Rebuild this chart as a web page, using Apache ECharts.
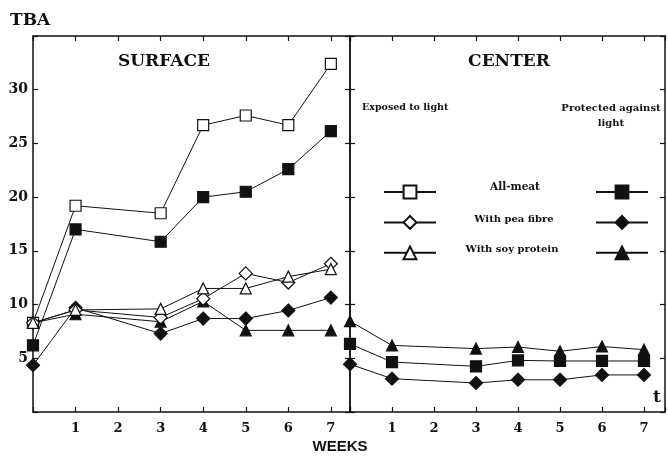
<!DOCTYPE html>
<html>
<head>
<meta charset="utf-8">
<script src="https://cdn.jsdelivr.net/npm/echarts@6/dist/echarts.min.js"></script>
<style>html,body{margin:0;padding:0;background:#fff}#c{width:668px;height:456px}</style>
</head>
<body>
<div id="c"></div>
<script>
// ---- data ----
var weeks = [0, 1, 3, 4, 5, 6, 7];
var tickLabels = [1, 2, 3, 4, 5, 6, 7];
var yTickLabels = [5, 10, 15, 20, 25, 30];
var surfaceAllMeatExposed   = [8.3, 19.2, 18.5, 26.7, 27.6, 26.7, 32.4];
var surfaceAllMeatProtected = [6.2, 17.0, 15.85, 20.0, 20.5, 22.6, 26.15];
var surfacePeaExposed       = [8.3, 9.5, 8.8, 10.55, 12.9, 12.05, 13.8];
var surfacePeaProtected     = [4.35, 9.7, 7.3, 8.7, 8.7, 9.45, 10.65];
var surfaceSoyExposed       = [8.3, 9.5, 9.6, 11.5, 11.5, 12.6, 13.3];
var surfaceSoyProtected     = [8.3, 9.1, 8.4, 10.3, 7.6, 7.6, 7.6];
var centerAllMeatProtected  = [6.35, 4.65, 4.25, 4.8, 4.75, 4.75, 4.75];
var centerPeaProtected      = [4.45, 3.1, 2.7, 3.0, 3.0, 3.45, 3.45];
var centerSoyProtected      = [8.45, 6.2, 5.9, 6.05, 5.65, 6.1, 5.8];
var groupLabels = ['All-meat', 'With pea fibre', 'With soy protein'];

function pairs(vals) { return weeks.map(function (w, i) { return [w, vals[i]]; }); }

var INK = '#111';
var SERIF = '"DejaVu Serif", serif';

function xAx(grid, pos, max, labels) {
  return {
    type: 'value', gridIndex: grid, position: pos, min: 0, max: max, interval: 1,
    axisLine: { show: true, onZero: false, lineStyle: { color: INK, width: 1.5 } },
    axisTick: { show: true, inside: true, length: 5, lineStyle: { color: INK, width: 1.2 } },
    splitLine: { show: false },
    axisLabel: labels ? {
      show: true, margin: 10, color: INK, fontFamily: SERIF, fontWeight: 'bold', fontSize: 13,
      formatter: function (v) { return tickLabels.indexOf(v) >= 0 ? String(v) : ''; }
    } : { show: false }
  };
}
function yAx(grid, pos, labels) {
  return {
    type: 'value', gridIndex: grid, position: pos, min: 0, max: 35, interval: 5,
    axisLine: { show: true, onZero: false, lineStyle: { color: INK, width: 1.5 } },
    axisTick: { show: true, inside: true, length: 5, lineStyle: { color: INK, width: 1.2 } },
    splitLine: { show: false },
    axisLabel: labels ? {
      show: true, margin: 5, color: INK, fontFamily: SERIF, fontWeight: 'bold', fontSize: 14,
      formatter: function (v) { return yTickLabels.indexOf(v) >= 0 ? String(v) : ''; }
    } : { show: false }
  };
}

function ser(name, vals, sym, size, open, xi, yi) {
  return {
    name: name, type: 'line', xAxisIndex: xi, yAxisIndex: yi, data: pairs(vals),
    symbol: sym, symbolSize: size, showAllSymbol: true,
    lineStyle: { color: INK, width: 1 },
    itemStyle: { color: open ? '#fff' : INK, borderColor: INK, borderWidth: 1.2 },
    z: open ? 4 : 3, animation: false
  };
}

var option = {
  backgroundColor: '#fff',
  animation: false,
  grid: [
    { left: 33, top: 36, width: 317, height: 376 },
    { left: 350, top: 36, width: 316, height: 376 }
  ],
  xAxis: [xAx(0, 'bottom', 7.45, true), xAx(0, 'top', 7.45, false),
          xAx(1, 'bottom', 7.5, true), xAx(1, 'top', 7.5, false)],
  yAxis: [yAx(0, 'left', true), yAx(0, 'right', false),
          yAx(1, 'left', false), yAx(1, 'right', false)],
  legend: [
    { data: ['AM exposed', 'PF exposed', 'SP exposed'], orient: 'vertical', left: 378, top: 179,
      itemWidth: 52, itemHeight: 16, itemGap: 15, selectedMode: false, formatter: function () { return ''; } },
    { data: ['AM protected', 'PF protected', 'SP protected'], orient: 'vertical', left: 590, top: 179,
      itemWidth: 52, itemHeight: 16, itemGap: 15, selectedMode: false, formatter: function () { return ''; } }
  ],
  series: [
    ser('AM exposed', surfaceAllMeatExposed, 'rect', 11, true, 0, 0),
    ser('AM protected', surfaceAllMeatProtected, 'rect', 11, false, 0, 0),
    ser('PF exposed', surfacePeaExposed, 'diamond', 13, true, 0, 0),
    ser('PF protected', surfacePeaProtected, 'diamond', 13, false, 0, 0),
    ser('SP exposed', surfaceSoyExposed, 'triangle', 11, true, 0, 0),
    ser('SP protected', surfaceSoyProtected, 'triangle', 11, false, 0, 0),
    ser('AM protected', centerAllMeatProtected, 'rect', 11, false, 2, 2),
    ser('PF protected', centerPeaProtected, 'diamond', 13, false, 2, 2),
    ser('SP protected', centerSoyProtected, 'triangle', 11, false, 2, 2)
  ],
  graphic: [
    { type: 'text', x: 10, y: 21, style: { text: 'TBA', font: 'bold 17px ' + SERIF, fill: INK, align: 'left', verticalAlign: 'middle' } },
    { type: 'text', x: 164, y: 62, style: { text: 'SURFACE', font: 'bold 17px ' + SERIF, fill: INK, align: 'center', verticalAlign: 'middle' } },
    { type: 'text', x: 509, y: 62, style: { text: 'CENTER', font: 'bold 17px ' + SERIF, fill: INK, align: 'center', verticalAlign: 'middle' } },
    { type: 'text', x: 362, y: 108, style: { text: 'Exposed to light', font: 'bold 9.5px ' + SERIF, fill: INK, align: 'left', verticalAlign: 'middle' } },
    { type: 'text', x: 611, y: 116, style: { text: 'Protected against\nlight', font: 'bold 10px ' + SERIF, fill: INK, align: 'center', verticalAlign: 'middle', lineHeight: 15 } },
    { type: 'text', x: 515, y: 187, style: { text: groupLabels[0], font: 'bold 10.5px ' + SERIF, fill: INK, align: 'center', verticalAlign: 'middle' } },
    { type: 'text', x: 514, y: 219, style: { text: groupLabels[1], font: 'bold 10px ' + SERIF, fill: INK, align: 'center', verticalAlign: 'middle' } },
    { type: 'text', x: 512, y: 249, style: { text: groupLabels[2], font: 'bold 10px ' + SERIF, fill: INK, align: 'center', verticalAlign: 'middle' } },
    { type: 'text', x: 657, y: 398, style: { text: 't', font: 'bold 17px ' + SERIF, fill: INK, align: 'center', verticalAlign: 'middle' } },
    { type: 'text', x: 340, y: 447, style: { text: 'WEEKS', font: 'bold 15px "Liberation Sans", Arial, sans-serif', fill: INK, align: 'center', verticalAlign: 'middle' } }
  ]
};

var chart = echarts.init(document.getElementById('c'), null, { renderer: 'canvas' });
chart.setOption(option);
</script>
</body>
</html>
